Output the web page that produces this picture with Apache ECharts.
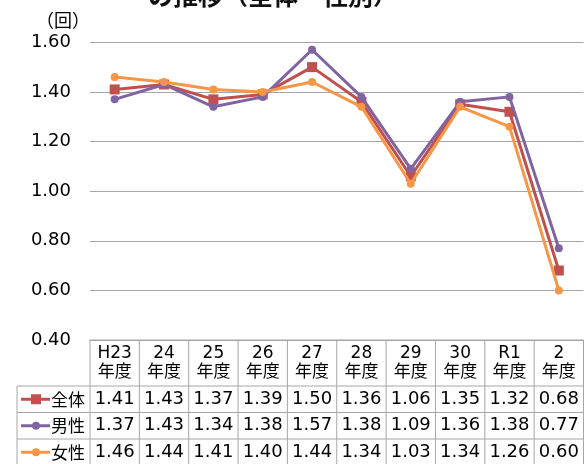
<!DOCTYPE html>
<html>
<head>
<meta charset="utf-8">
<script src="https://cdn.jsdelivr.net/npm/echarts@6/dist/echarts.min.js"></script>
<style>
  html, body { margin: 0; padding: 0; background: #fff; }
  #chart { width: 584px; height: 464px; }
</style>
</head>
<body>
<div id="chart"></div>
<script>
// 年度ごとの平均回数（全体・男性・女性）
const titleText = 'の推移（全体・性別）';
const unitText = '（回）';
const years = ['H23', '24', '25', '26', '27', '28', '29', '30', 'R1', '2'];
const yearSuffix = '年度';
const seriesNames = ['全体', '男性', '女性'];
const totalValues = [1.41, 1.43, 1.37, 1.39, 1.50, 1.36, 1.06, 1.35, 1.32, 0.68];
const maleValues = [1.37, 1.43, 1.34, 1.38, 1.57, 1.38, 1.09, 1.36, 1.38, 0.77];
const femaleValues = [1.46, 1.44, 1.41, 1.40, 1.44, 1.34, 1.03, 1.34, 1.26, 0.60];
const yTicks = [0.40, 0.60, 0.80, 1.00, 1.20, 1.40, 1.60];

const colors = ['#C0504D', '#8064A2', '#F79646'];
const symbols = ['rect', 'circle', 'circle'];
const symbolSizes = [10, 8, 8];
const allValues = [totalValues, maleValues, femaleValues];

const numFont = '"DejaVu Sans", "Noto Sans CJK JP", sans-serif';
const jpFont = '"Noto Sans CJK JP", sans-serif';
const gridColor = '#A6A6A6';

const GRID = { left: 90, right: 0.5, top: 42.3, bottom: 124 };
const ROW_TOP = 386;      // 表の1行目の上端
const ROW_H = 26.5;       // 表の行の高さ
const TABLE_LEFT = 17;    // 凡例列の左端

const chart = echarts.init(document.getElementById('chart'), null, { renderer: 'canvas' });

chart.setOption({
  animation: false,
  backgroundColor: '#ffffff',
  grid: GRID,
  xAxis: {
    type: 'category',
    data: years,
    boundaryGap: true,
    axisLine: { show: false },
    axisTick: { show: false },
    axisLabel: {
      interval: 0,
      margin: 4,
      color: '#000',
      fontSize: 17,
      lineHeight: 19,
      fontFamily: numFont,
      formatter: v => v + '\n' + yearSuffix
    }
  },
  yAxis: {
    type: 'value',
    min: yTicks[0],
    max: yTicks[yTicks.length - 1],
    interval: 0.2,
    axisLine: { show: false },
    axisTick: { show: false },
    splitLine: { lineStyle: { color: gridColor, width: 1 } },
    axisLabel: {
      margin: 19,
      color: '#000',
      fontSize: 18,
      fontFamily: numFont,
      formatter: v => v.toFixed(2)
    }
  },
  series: allValues.map((vals, i) => ({
    name: seriesNames[i],
    type: 'line',
    data: vals,
    z: 2 + i,
    symbol: symbols[i],
    symbolSize: symbolSizes[i],
    showSymbol: true,
    lineStyle: { color: colors[i], width: 3 },
    itemStyle: { color: colors[i] }
  }))
});

// 表（凡例とデータ値）と見出し類を描く
function drawTable() {
  const elements = [];
  const centers = years.map((_, i) => chart.convertToPixel({ xAxisIndex: 0 }, i));
  const step = centers.length > 1 ? centers[1] - centers[0] : 49;
  const left = centers[0] - step / 2;
  const right = centers[centers.length - 1] + step / 2;
  const headTop = chart.convertToPixel({ yAxisIndex: 0 }, yTicks[0]);
  const bottom = ROW_TOP + ROW_H * seriesNames.length;
  const line = (x1, y1, x2, y2) => ({
    type: 'line',
    shape: { x1, y1, x2, y2 },
    style: { stroke: gridColor, lineWidth: 1 },
    silent: true
  });

  // 横線
  elements.push(line(left, headTop, right, headTop));
  for (let r = 0; r <= seriesNames.length; r++) {
    const y = ROW_TOP + ROW_H * r;
    elements.push(line(TABLE_LEFT, y, right, y));
  }
  // 縦線
  elements.push(line(TABLE_LEFT, ROW_TOP, TABLE_LEFT, bottom));
  for (let c = 0; c <= years.length; c++) {
    const x = left + step * c;
    elements.push(line(x, headTop, x, bottom));
  }

  // 各行：凡例記号と値
  seriesNames.forEach((name, r) => {
    const cy = ROW_TOP + ROW_H * r + ROW_H / 2;
    elements.push({
      type: 'line',
      shape: { x1: 21, y1: cy, x2: 50, y2: cy },
      style: { stroke: colors[r], lineWidth: 3 },
      silent: true
    });
    if (symbols[r] === 'rect') {
      elements.push({
        type: 'rect',
        shape: { x: 36 - 5, y: cy - 5, width: 10, height: 10 },
        style: { fill: colors[r] },
        silent: true
      });
    } else {
      elements.push({
        type: 'circle',
        shape: { cx: 36, cy: cy, r: 4 },
        style: { fill: colors[r] },
        silent: true
      });
    }
    elements.push({
      type: 'text',
      x: 51, y: cy,
      style: {
        text: name, fill: '#000', font: '17px ' + jpFont,
        textAlign: 'left', textVerticalAlign: 'middle'
      },
      silent: true
    });
    allValues[r].forEach((v, c) => {
      elements.push({
        type: 'text',
        x: centers[c], y: cy,
        style: {
          text: v.toFixed(2), fill: '#000', font: '18px ' + numFont,
          textAlign: 'center', textVerticalAlign: 'middle'
        },
        silent: true
      });
    });
  });

  // 単位
  elements.push({
    type: 'text',
    x: 63, y: 20.5,
    style: {
      text: unitText, fill: '#000', font: '18px ' + jpFont,
      textAlign: 'center', textVerticalAlign: 'middle'
    },
    silent: true
  });
  // タイトル（上端で切れている）
  elements.push({
    type: 'text',
    x: 273, y: -5,
    style: {
      text: titleText, fill: '#111', font: 'bold 25px ' + jpFont,
      textAlign: 'center', textVerticalAlign: 'middle'
    },
    silent: true
  });

  chart.setOption({ graphic: { elements } });
}

drawTable();
</script>
</body>
</html>
